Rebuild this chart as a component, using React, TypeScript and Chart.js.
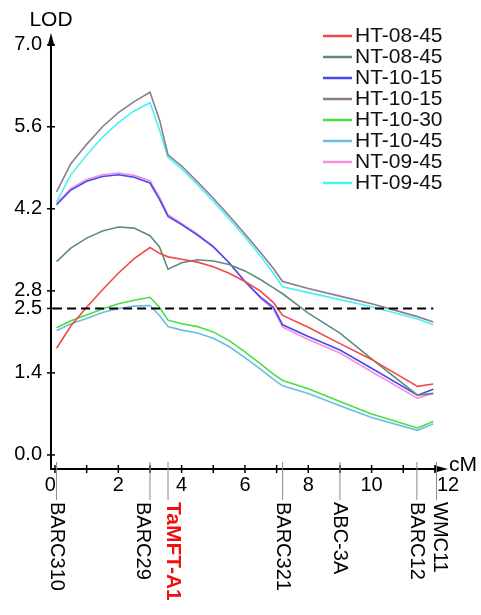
import React, { useEffect, useRef } from 'react';
import { Chart, registerables } from 'chart.js';

Chart.register(...registerables);

// ---- data ----
const positionsCM = [0.05, 0.5, 1, 1.5, 2, 2.5, 3, 3.3, 3.57, 4, 4.5, 5, 5.5, 6, 6.5, 6.9, 7.19, 8, 9, 10, 11.45, 11.95];

const ht0845 = [1.82, 2.2, 2.52, 2.82, 3.1, 3.35, 3.54, 3.44, 3.38, 3.34, 3.29, 3.21, 3.1, 2.96, 2.79, 2.6, 2.38, 2.18, 1.9, 1.63, 1.17, 1.21];
const nt0845 = [3.3, 3.53, 3.7, 3.82, 3.89, 3.87, 3.74, 3.55, 3.17, 3.28, 3.33, 3.31, 3.25, 3.14, 2.99, 2.85, 2.75, 2.42, 2.08, 1.64, 1.02, 1.05];
const nt1015 = [4.27, 4.52, 4.67, 4.75, 4.78, 4.74, 4.64, 4.36, 4.07, 3.93, 3.75, 3.55, 3.28, 2.96, 2.69, 2.52, 2.22, 2.02, 1.79, 1.48, 1.02, 1.12];
const ht1015 = [4.49, 4.97, 5.3, 5.6, 5.84, 6.03, 6.19, 5.72, 5.12, 4.93, 4.66, 4.38, 4.08, 3.77, 3.45, 3.18, 2.96, 2.84, 2.71, 2.58, 2.36, 2.27];
const ht1030 = [2.17, 2.29, 2.39, 2.49, 2.58, 2.64, 2.69, 2.52, 2.3, 2.24, 2.19, 2.1, 1.95, 1.76, 1.55, 1.38, 1.27, 1.13, 0.91, 0.7, 0.46, 0.57];
const ht1045 = [2.12, 2.24, 2.33, 2.43, 2.5, 2.54, 2.55, 2.38, 2.19, 2.13, 2.08, 1.99, 1.85, 1.66, 1.46, 1.29, 1.18, 1.05, 0.84, 0.64, 0.42, 0.53];
const nt0945 = [4.29, 4.55, 4.7, 4.78, 4.81, 4.77, 4.68, 4.4, 4.1, 3.95, 3.77, 3.56, 3.28, 2.96, 2.67, 2.49, 2.18, 1.97, 1.74, 1.42, 0.97, 1.05];
const ht0945 = [4.32, 4.78, 5.12, 5.42, 5.67, 5.87, 6.01, 5.55, 5.08, 4.88, 4.61, 4.33, 4.03, 3.72, 3.39, 3.1, 2.87, 2.77, 2.65, 2.53, 2.32, 2.22];

const seriesNames = ['HT-08-45', 'NT-08-45', 'NT-10-15', 'HT-10-15', 'HT-10-30', 'HT-10-45', 'NT-09-45', 'HT-09-45'];
const seriesValues = [ht0845, nt0845, nt1015, ht1015, ht1030, ht1045, nt0945, ht0945];
const seriesColors = ['#f24848', '#5e8c7c', '#4848f0', '#8c7c8e', '#46e046', '#6cbce4', '#f590dc', '#48f2f2'];

const lodTicks = [0, 1.4, 2.5, 2.8, 4.2, 5.6, 7.0];
const cmTicks = [0, 1, 2, 3, 4, 5, 6, 7, 8, 9, 10, 11, 12];
const cmTickLabels = [0, 2, 4, 6, 8, 10, 12];
const markerNames = ['BARC310', 'BARC29', 'TaMFT-A1', 'BARC321', 'ABC-3A', 'BARC12', 'WMC11'];
const markerPositions = [0.05, 3.0, 3.57, 7.19, 9.0, 11.43, 12.05];
const thresholdLOD = 2.5;
const thresholdRange = [-0.06, 11.95];

const FONT = "'Liberation Sans', Arial, sans-serif";

const decorPlugin = {
  id: 'decor',
  afterDraw(chart: any) {
    const ctx = chart.ctx;
    const xs = chart.scales.x;
    const ys = chart.scales.y;
    const ca = chart.chartArea;
    const ax = ca.left;
    const ay = ca.bottom;
    ctx.save();
    ctx.strokeStyle = '#000';
    ctx.fillStyle = '#000';
    ctx.lineWidth = 2;
    // y axis
    ctx.beginPath();
    ctx.moveTo(ax, ay + 1);
    ctx.lineTo(ax, ca.top + 8);
    ctx.stroke();
    ctx.beginPath();
    ctx.moveTo(ax, ca.top);
    ctx.lineTo(ax - 3.5, ca.top + 13);
    ctx.lineTo(ax + 3.5, ca.top + 13);
    ctx.closePath();
    ctx.fill();
    // x axis
    const tipX = ca.right + 2;
    ctx.beginPath();
    ctx.moveTo(ax - 1, ay);
    ctx.lineTo(tipX - 8, ay);
    ctx.stroke();
    ctx.beginPath();
    ctx.moveTo(tipX, ay);
    ctx.lineTo(tipX - 13, ay - 3.5);
    ctx.lineTo(tipX - 13, ay + 3.5);
    ctx.closePath();
    ctx.fill();
    // y ticks
    ctx.lineWidth = 1.5;
    for (const v of lodTicks) {
      const py = ys.getPixelForValue(v);
      ctx.beginPath();
      ctx.moveTo(ax - 4, py);
      ctx.lineTo(ax + 4, py);
      ctx.stroke();
    }
    // x ticks
    for (const v of cmTicks) {
      const px = xs.getPixelForValue(v);
      ctx.beginPath();
      ctx.moveTo(px, ay - 4);
      ctx.lineTo(px, ay + 4);
      ctx.stroke();
    }
    // x tick labels
    ctx.font = `20px ${FONT}`;
    ctx.textBaseline = 'middle';
    cmTickLabels.forEach((v, i) => {
      const px = xs.getPixelForValue(v);
      if (i === 0) {
        ctx.textAlign = 'right';
        ctx.fillText(String(v), px + 1, ay + 16);
      } else if (i === cmTickLabels.length - 1) {
        ctx.textAlign = 'left';
        ctx.fillText(String(v), px + 2, ay + 16);
      } else {
        ctx.textAlign = 'center';
        ctx.fillText(String(v), px, ay + 16);
      }
    });
    // axis titles
    ctx.font = `21px ${FONT}`;
    ctx.textAlign = 'center';
    ctx.fillText('LOD', ax, 20);
    ctx.textAlign = 'left';
    ctx.fillText('cM', tipX + 1, ay - 4);
    // markers
    const labelShift: Record<string, number> = { 'BARC29': -7, 'TaMFT-A1': 5, 'WMC11': 3 };
    markerNames.forEach((name, i) => {
      const px = xs.getPixelForValue(markerPositions[i]);
      ctx.strokeStyle = '#8a8a8a';
      ctx.lineWidth = 1;
      ctx.beginPath();
      ctx.moveTo(px, ay - 7);
      ctx.lineTo(px, ay + 31);
      ctx.stroke();
      const bold = name === 'TaMFT-A1';
      ctx.save();
      ctx.translate(px + (labelShift[name] || 0), ay + 33);
      ctx.rotate(Math.PI / 2);
      ctx.font = `${bold ? 'bold 21px' : '20px'} ${FONT}`;
      ctx.fillStyle = bold ? '#f01010' : '#000';
      ctx.textAlign = 'left';
      ctx.textBaseline = 'middle';
      ctx.fillText(name, 0, 0);
      ctx.restore();
    });
    // legend
    ctx.font = `21px ${FONT}`;
    ctx.textAlign = 'left';
    ctx.textBaseline = 'middle';
    seriesNames.forEach((name, i) => {
      const y = 36 + i * 21;
      ctx.strokeStyle = seriesColors[i];
      ctx.lineWidth = 2.5;
      ctx.beginPath();
      ctx.moveTo(323, y);
      ctx.lineTo(352, y);
      ctx.stroke();
      ctx.fillStyle = '#111';
      ctx.fillText(name, 355, y);
    });
    ctx.restore();
  },
};

export default function App() {
  const canvasRef = useRef<HTMLCanvasElement | null>(null);

  useEffect(() => {
    if (!canvasRef.current) return;
    const datasets: any[] = seriesNames.map((name, i) => ({
      label: name,
      data: positionsCM.map((x, j) => ({ x, y: seriesValues[i][j] })),
      borderColor: seriesColors[i],
      borderWidth: 1.6,
      pointRadius: 0,
      tension: 0,
      fill: false,
    }));
    datasets.push({
      label: 'threshold',
      data: thresholdRange.map((x) => ({ x, y: thresholdLOD })),
      borderColor: '#000',
      borderWidth: 2,
      borderDash: [9, 5],
      pointRadius: 0,
      fill: false,
      order: -1,
    });
    const chart = new Chart(canvasRef.current, {
      type: 'line',
      data: { datasets },
      plugins: [decorPlugin],
      options: {
        animation: false,
        responsive: false,
        maintainAspectRatio: false,
        layout: { padding: { top: 33, right: 35, left: 0, bottom: 0 } },
        plugins: { legend: { display: false }, tooltip: { enabled: false } },
        scales: {
          x: {
            type: 'linear',
            min: -0.126,
            max: 12.35,
            grid: { display: false, drawTicks: false },
            border: { display: false },
            ticks: { display: false },
            afterFit: (s: any) => {
              s.height = 146;
            },
          },
          y: {
            type: 'linear',
            min: -0.24,
            max: 7.2,
            grid: { display: false, drawTicks: false },
            border: { display: false },
            afterBuildTicks: (s: any) => {
              s.ticks = lodTicks.map((v) => ({ value: v }));
            },
            ticks: {
              autoSkip: false,
              padding: 9,
              color: '#000',
              font: { size: 20, family: FONT },
              callback: (v: any) => Number(v).toFixed(1),
            },
            afterFit: (s: any) => {
              s.width = 51;
            },
          },
        },
      },
    });
    return () => chart.destroy();
  }, []);

  return (
    <div style={{ position: 'fixed', left: 0, top: 0, width: 481, height: 615, background: '#fff' }}>
      <canvas ref={canvasRef} width={481} height={615} style={{ display: 'block' }} />
    </div>
  );
}
